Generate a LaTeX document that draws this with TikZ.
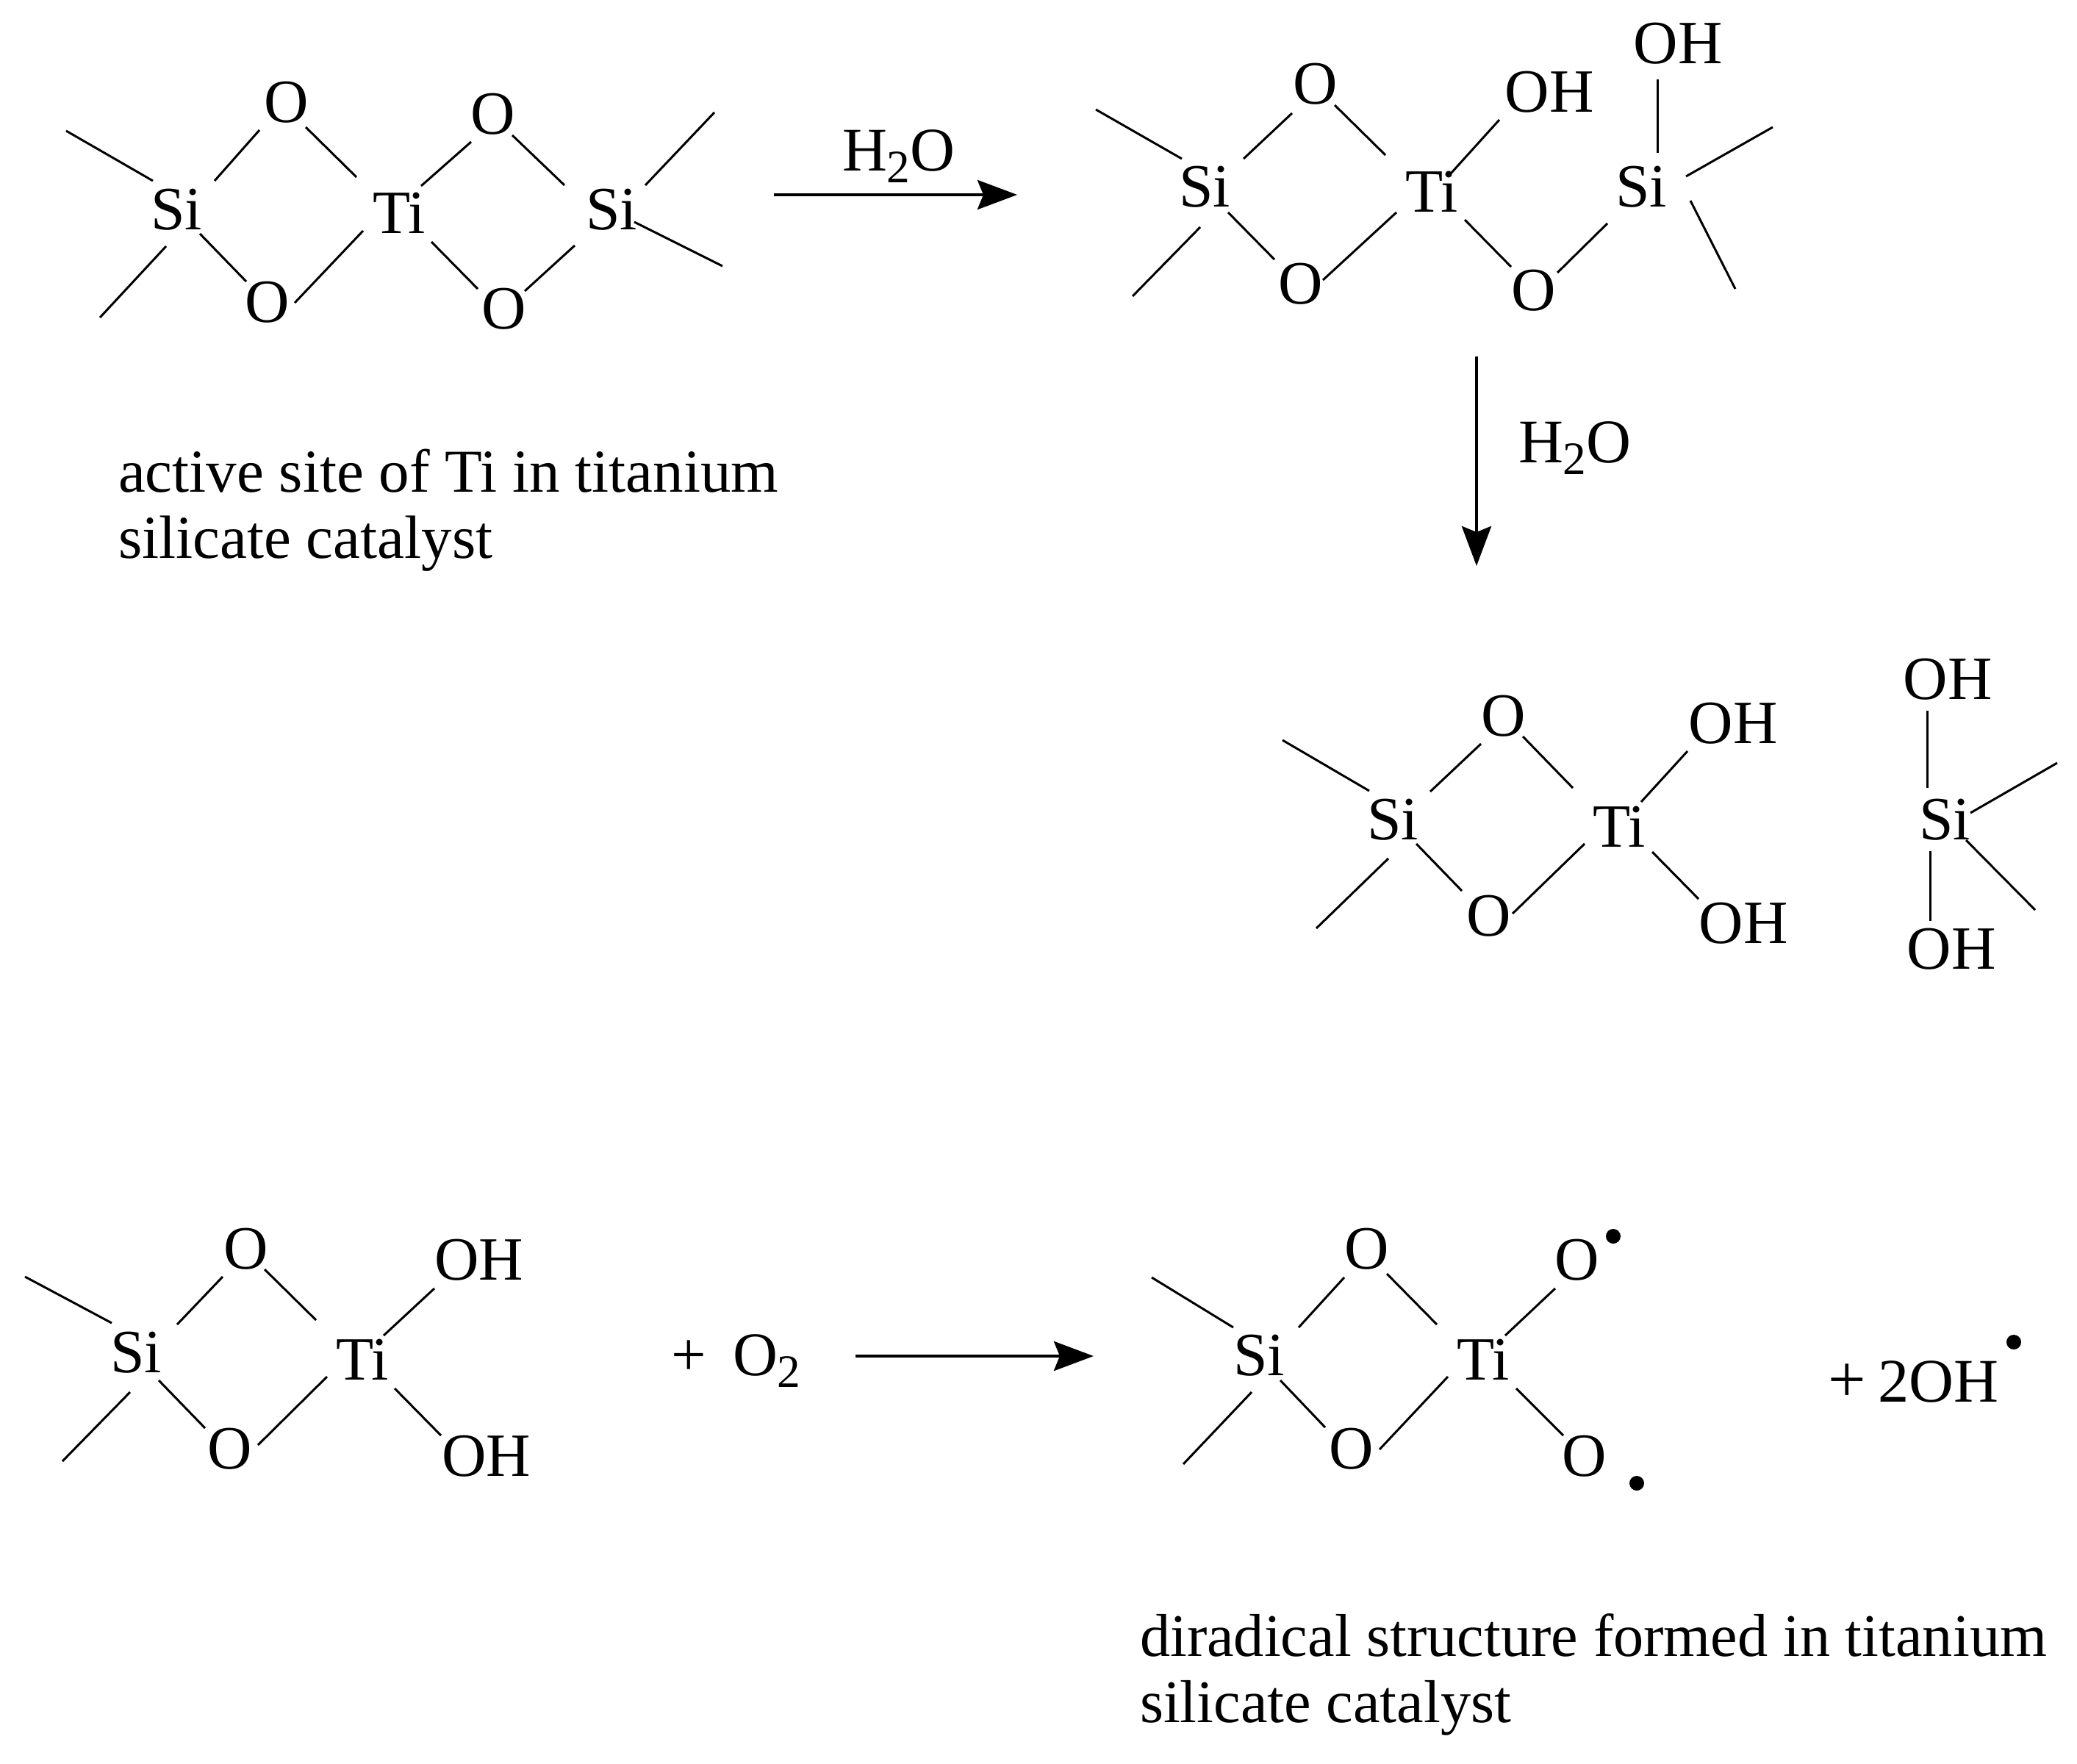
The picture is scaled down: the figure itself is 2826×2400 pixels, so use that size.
\documentclass[tikz,border=0pt]{standalone}
\usepackage{fontspec}
\setmainfont{Liberation Serif}
\usetikzlibrary{arrows.meta}
\newcommand{\subtwo}{\raisebox{-0.2em}{\fontsize{18}{18}\selectfont 2}}
\tikzset{
  atom/.style={inner sep=0pt,outer sep=0pt,text height=0.54cm,text depth=0pt,anchor=center,font=\fontsize{23.8}{26}\selectfont},
  formula/.style={inner sep=0pt,outer sep=0pt,anchor=base west,font=\fontsize{24}{26}\selectfont},
  bigplus/.style={formula,font=\fontsize{26}{26}\selectfont},
  caption/.style={inner sep=0pt,outer sep=0pt,anchor=north west,align=left,font=\fontsize{23.6}{25.6}\selectfont},
  captionb/.style={caption,font=\fontsize{23.4}{25.6}\selectfont},
  bond/.style={line width=0.85pt,line cap=butt},
  rxn/.style={line width=1.2pt,-{Stealth[length=0.54cm,width=0.40cm,inset=0.08cm]}},
  radical/.style={circle,fill=black,inner sep=0pt,minimum size=0.20cm},
}
\begin{document}
\begin{tikzpicture}[x=0.01cm,y=-0.01cm]
\useasboundingbox (2,1) rectangle (2828,2401);
% ---------- molecule 1
\node[atom] (si1) at (242,286) {Si};
\node[atom] (ota) at (392,140) {O};
\node[atom] (ti1) at (545,291) {Ti};
\node[atom] (oba) at (366,412) {O};
\node[atom] (otb) at (673,156) {O};
\node[atom] (obb) at (688,421) {O};
\node[atom] (si2) at (834,286) {Si};
\coordinate (f1a) at (92,179);
\coordinate (f1b) at (138,433);
\coordinate (f1c) at (974,154);
\coordinate (f1d) at (985,363);
\draw[bond] (f1a) -- ([shift={(-32,-39)}]si1.center);
\draw[bond] (f1b) -- ([shift={(-14,50)}]si1.center);
\draw[bond] ([shift={(52,-39)}]si1.center) -- ([shift={(-37,38)}]ota.center);
\draw[bond] ([shift={(26,34)}]ota.center) -- ([shift={(-58,-49)}]ti1.center);
\draw[bond] ([shift={(32,33)}]si1.center) -- ([shift={(-29,-28)}]oba.center);
\draw[bond] ([shift={(37,1)}]oba.center) -- ([shift={(-49,24)}]ti1.center);
\draw[bond] ([shift={(30,-37)}]ti1.center) -- ([shift={(-30,38)}]otb.center);
\draw[bond] ([shift={(26,29)}]otb.center) -- ([shift={(-64,-33)}]si2.center);
\draw[bond] ([shift={(44,39)}]ti1.center) -- ([shift={(-36,-27)}]obb.center);
\draw[bond] ([shift={(28,-24)}]obb.center) -- ([shift={(-50,49)}]si2.center);
\draw[bond] ([shift={(46,-33)}]si2.center) -- (f1c);
\draw[bond] ([shift={(31,17)}]si2.center) -- (f1d);
% arrow 1
\coordinate (a1s) at (1055,266);
\coordinate (a1e) at (1386,266);
\draw[rxn] (a1s) -- (a1e);
\node[formula] (lab1) at (1148,233) {H\subtwo O};
\node[caption] (cap1) at (163,612) {active site of Ti in titanium\\silicate catalyst};
% ---------- molecule 2
\node[atom] (si3) at (1641,255) {Si};
\node[atom] (otc) at (1792,115) {O};
\node[atom] (ti2) at (1950,262) {Ti};
\node[atom] (obc) at (1772,387) {O};
\node[atom] (oh1) at (2110,126) {OH};
\node[atom] (oh2) at (2285,60) {OH};
\node[atom] (si4) at (2235,255) {Si};
\node[atom] (obd) at (2089,396) {O};
\coordinate (f2a) at (1493,150);
\coordinate (f2b) at (1543,404);
\coordinate (f2c) at (2414,174);
\coordinate (f2d) at (2363,394);
\draw[bond] (f2a) -- ([shift={(-31,-38)}]si3.center);
\draw[bond] ([shift={(-6,55)}]si3.center) -- (f2b);
\draw[bond] ([shift={(53,-38)}]si3.center) -- ([shift={(-32,40)}]otc.center);
\draw[bond] ([shift={(26,29)}]otc.center) -- ([shift={(-63,-50)}]ti2.center);
\draw[bond] ([shift={(32,35)}]si3.center) -- ([shift={(-36,-33)}]obc.center);
\draw[bond] ([shift={(30,-5)}]obc.center) -- ([shift={(-48,28)}]ti2.center);
\draw[bond] ([shift={(26,-25)}]ti2.center) -- ([shift={(-68,38)}]oh1.center);
\draw[bond] ([shift={(45,38)}]ti2.center) -- ([shift={(-31,-32)}]obd.center);
\draw[bond] ([shift={(32,-24)}]obd.center) -- ([shift={(-46,50)}]si4.center);
\draw[bond] ([shift={(22,-46)}]si4.center) -- ([shift={(-28,49)}]oh2.center);
\draw[bond] ([shift={(61,-14)}]si4.center) -- (f2c);
\draw[bond] ([shift={(67,19)}]si4.center) -- (f2d);
% arrow 2
\coordinate (a2s) at (2011,486);
\coordinate (a2e) at (2011,771);
\draw[rxn] (a2s) -- (a2e);
\node[formula] (lab2) at (2068,630) {H\subtwo O};
% ---------- molecule 3
\node[atom] (si5) at (1897,1116) {Si};
\node[atom] (ote) at (2048,975) {O};
\node[atom] (ti3) at (2205,1126) {Ti};
\node[atom] (obe) at (2028,1247) {O};
\node[atom] (oh3) at (2360,985) {OH};
\node[atom] (oh4) at (2374,1257) {OH};
\node[atom] (oh5) at (2652,925) {OH};
\node[atom] (si6) at (2648,1116) {Si};
\node[atom] (oh6) at (2657,1292) {OH};
\coordinate (f3a) at (1747,1008);
\coordinate (f3b) at (1793,1264);
\coordinate (f3c) at (2801,1039);
\coordinate (f3d) at (2771,1239);
\draw[bond] (f3a) -- ([shift={(-32,-39)}]si5.center);
\draw[bond] ([shift={(-6,53)}]si5.center) -- (f3b);
\draw[bond] ([shift={(51,-38)}]si5.center) -- ([shift={(-31,38)}]ote.center);
\draw[bond] ([shift={(26,28)}]ote.center) -- ([shift={(-63,-53)}]ti3.center);
\draw[bond] ([shift={(32,33)}]si5.center) -- ([shift={(-37,-34)}]obe.center);
\draw[bond] ([shift={(32,-3)}]obe.center) -- ([shift={(-47,23)}]ti3.center);
\draw[bond] ([shift={(30,-34)}]ti3.center) -- ([shift={(-62,38)}]oh3.center);
\draw[bond] ([shift={(45,34)}]ti3.center) -- ([shift={(-61,-33)}]oh4.center);
\draw[bond] ([shift={(-28,43)}]oh5.center) -- ([shift={(-24,-43)}]si6.center);
\draw[bond] ([shift={(-20,43)}]si6.center) -- ([shift={(-29,-38)}]oh6.center);
\draw[bond] ([shift={(35,-9)}]si6.center) -- (f3c);
\draw[bond] ([shift={(29,28)}]si6.center) -- (f3d);
% ---------- molecule 4
\node[atom] (si7) at (187,1841) {Si};
\node[atom] (otf) at (337,1700) {O};
\node[atom] (ti4) at (495,1851) {Ti};
\node[atom] (obf) at (315,1972) {O};
\node[atom] (oh7) at (654,1715) {OH};
\node[atom] (oh8) at (664,1982) {OH};
\coordinate (f4a) at (36,1738);
\coordinate (f4b) at (87,1989);
\draw[bond] (f4a) -- ([shift={(-33,-40)}]si7.center);
\draw[bond] ([shift={(-8,54)}]si7.center) -- (f4b);
\draw[bond] ([shift={(56,-38)}]si7.center) -- ([shift={(-32,38)}]otf.center);
\draw[bond] ([shift={(25,28)}]otf.center) -- ([shift={(-63,-54)}]ti4.center);
\draw[bond] ([shift={(31,38)}]si7.center) -- ([shift={(-34,-28)}]obf.center);
\draw[bond] ([shift={(38,-5)}]obf.center) -- ([shift={(-48,23)}]ti4.center);
\draw[bond] ([shift={(29,-33)}]ti4.center) -- ([shift={(-61,39)}]oh7.center);
\draw[bond] ([shift={(44,39)}]ti4.center) -- ([shift={(-62,-28)}]oh8.center);
\node[formula] (plus1) at (915,1872) {+};
\node[formula] (o2mol) at (999,1872) {O\subtwo};
% arrow 3
\coordinate (a3s) at (1166,1846);
\coordinate (a3e) at (1490,1846);
\draw[rxn] (a3s) -- (a3e);
% ---------- molecule 5
\node[atom] (si8) at (1715,1845) {Si};
\node[atom] (otg) at (1862,1700) {O};
\node[atom] (ti5) at (2020,1851) {Ti};
\node[atom] (obg) at (1841,1972) {O};
\node[atom] (orad1) at (2148,1715) {O};
\node[atom] (orad2) at (2158,1982) {O};
\node[radical] (dot1) at (2197,1683) {};
\node[radical] (dot2) at (2229,2019) {};
\coordinate (f5a) at (1569,1739);
\coordinate (f5b) at (1612,1993);
\draw[bond] (f5a) -- ([shift={(-35,-38)}]si8.center);
\draw[bond] ([shift={(-10,50)}]si8.center) -- (f5b);
\draw[bond] ([shift={(54,-38)}]si8.center) -- ([shift={(-31,39)}]otg.center);
\draw[bond] ([shift={(27,34)}]otg.center) -- ([shift={(-63,-48)}]ti5.center);
\draw[bond] ([shift={(29,34)}]si8.center) -- ([shift={(-36,-29)}]obg.center);
\draw[bond] ([shift={(38,1)}]obg.center) -- ([shift={(-48,23)}]ti5.center);
\draw[bond] ([shift={(30,-33)}]ti5.center) -- ([shift={(-30,39)}]orad1.center);
\draw[bond] ([shift={(45,39)}]ti5.center) -- ([shift={(-29,-28)}]orad2.center);
\node[bigplus] (plus2) at (2489,1908) {+};
\node[formula] (twooh) at (2557,1908) {2OH};
\node[radical] (dot3) at (2742,1827) {};
\node[captionb] (cap2) at (1553,2197) {diradical structure formed in titanium\\silicate catalyst};
\end{tikzpicture}
\end{document}
